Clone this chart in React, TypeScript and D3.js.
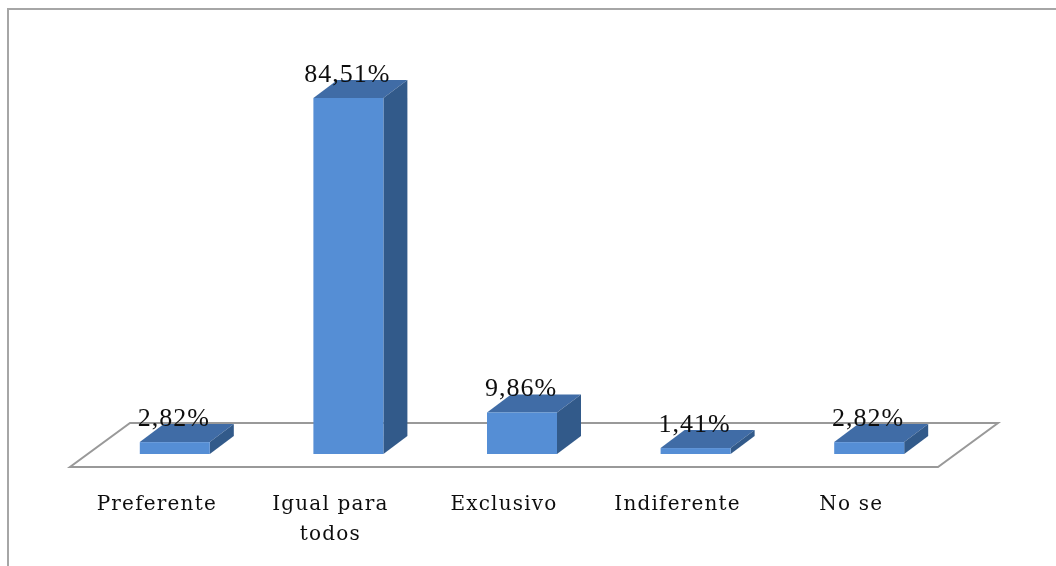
import React from "react";
import * as d3 from "d3";

const categories = ["Preferente", "Igual para todos", "Exclusivo", "Indiferente", "No se"];
const categoryLines = [["Preferente"], ["Igual para", "todos"], ["Exclusivo"], ["Indiferente"], ["No se"]];
const values = [2.82, 84.51, 9.86, 1.41, 2.82];
const valueLabels = ["2,82%", "84,51%", "9,86%", "1,41%", "2,82%"];

const W = 1056, H = 566;
const FRONT_L = 70, FRONT_R = 938, FRONT_Y = 467, BACK_DX = 60, BACK_DY = -44;
const BAR_DX = 24, BAR_DY = -18, BAR_W = 70, SHIFT = 18, BASE = 454;
const FONT = "'DejaVu Serif', serif";
const VALUE_FONT = "'Liberation Serif', serif";

const x = d3.scaleBand<string>().domain(categories).range([FRONT_L, FRONT_R]);
const y = d3.scaleLinear().domain([0, 84.51]).range([BASE, 98]);
const poly = d3.line();

export default function App() {
  return (
    <svg width={W} height={H} style={{ position: "fixed", left: 0, top: 0, background: "#fff" }}>
      <defs>
        <filter id="soft" x="-5%" y="-5%" width="110%" height="110%">
          <feGaussianBlur stdDeviation="0.6" />
        </filter>
      </defs>
      <g filter="url(#soft)">
        <path d="M8,566V9H1060" fill="none" stroke="#a6a6a6" strokeWidth={2} />
        <path
          d={poly([
            [FRONT_L, FRONT_Y],
            [FRONT_R, FRONT_Y],
            [FRONT_R + BACK_DX, FRONT_Y + BACK_DY],
            [FRONT_L + BACK_DX, FRONT_Y + BACK_DY],
          ]) + "Z"}
          fill="#fff"
          stroke="#999"
          strokeWidth={2}
        />
        {categories.map((c, i) => {
          const l = (x(c) as number) + SHIFT + (x.bandwidth() - BAR_W) / 2;
          const r = l + BAR_W;
          const top = y(values[i]);
          return (
            <g key={c}>
              <path d={poly([[l, top], [r, top], [r + BAR_DX, top + BAR_DY], [l + BAR_DX, top + BAR_DY]]) + "Z"} fill="#3f6ca6" />
              <path d={poly([[r, top], [r + BAR_DX, top + BAR_DY], [r + BAR_DX, BASE + BAR_DY], [r, BASE]]) + "Z"} fill="#335a8a" />
              <rect x={l} y={top} width={BAR_W} height={BASE - top} fill="#558ed5" />
            </g>
          );
        })}
        {categories.map((c, i) => {
          const cx = (x(c) as number) + SHIFT + x.bandwidth() / 2;
          return (
            <text key={c} x={cx - 1} y={y(values[i]) - 16} textAnchor="middle" fontFamily={VALUE_FONT} fontSize={26} letterSpacing={1} fill="#111">
              {valueLabels[i]}
            </text>
          );
        })}
        {categories.map((c, i) => {
          const cx = (x(c) as number) + x.bandwidth() / 2;
          return (
            <text key={c} textAnchor="middle" fontFamily={FONT} fontSize={20} letterSpacing={1.2} fill="#111">
              {categoryLines[i].map((t, k) => (
                <tspan key={t} x={cx} y={510 + k * 30}>{t}</tspan>
              ))}
            </text>
          );
        })}
      </g>
    </svg>
  );
}
